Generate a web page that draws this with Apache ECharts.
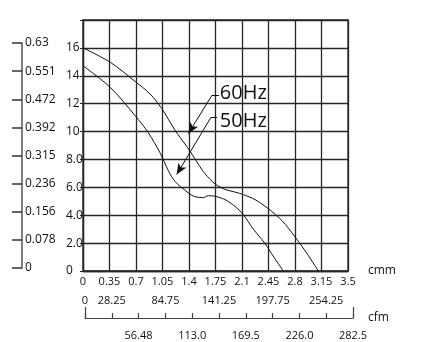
<!DOCTYPE html>
<html>
<head>
<meta charset="utf-8">
<script src="https://cdn.jsdelivr.net/npm/echarts@6/dist/echarts.min.js"></script>
<style>
  html, body { margin: 0; padding: 0; background: #fff; }
  #chart { width: 424px; height: 342px; }
</style>
</head>
<body>
<div id="chart"></div>
<script>
// Airflow (cmm) tick labels along the main horizontal axis
const cmmLabels = ['0', '0.35', '0.7', '1.05', '1.4', '1.75', '2.1', '2.45', '2.8', '3.15', '3.5'];
// Airflow (cfm) tick labels on the secondary scale
const cfmLabels = ['0', '28.25', '56.48', '84.75', '113.0', '141.25', '169.5', '197.75', '226.0', '254.25', '282.5'];
// Static pressure (mmH2O) tick labels
const pressLabels = ['0', '2.0', '4.0', '6.0', '8.0', '10', '12', '14', '16'];
// Static pressure (inch H2O) tick labels
const inchLabels = ['0', '0.078', '0.156', '0.236', '0.315', '0.392', '0.472', '0.551', '0.63'];

// 60Hz performance curve
const flow60  = [0, 0.36, 0.687, 0.885, 1.04, 1.215, 1.347, 1.413, 1.523, 1.611, 1.743, 1.876, 2.008, 2.117, 2.272, 2.44, 2.63, 2.8, 2.955, 3.108];
const press60 = [16.0, 14.97, 13.6, 12.7, 11.65, 10.1, 9.1, 8.6, 7.66, 6.98, 6.25, 5.85, 5.66, 5.48, 5.12, 4.5, 3.6, 2.45, 1.28, 0];

// 50Hz performance curve
const flow50  = [0, 0.36, 0.687, 0.862, 1.017, 1.127, 1.215, 1.391, 1.479, 1.589, 1.655, 1.743, 1.876, 2.008, 2.117, 2.25, 2.4, 2.52, 2.646];
const press50 = [14.72, 13.17, 11.15, 9.92, 8.48, 7.2, 6.42, 5.6, 5.33, 5.26, 5.4, 5.36, 5.12, 4.63, 4.04, 3.0, 2.0, 1.0, 0];

// Callout leaders: text anchor, elbow start, elbow end, arrow tip (cmm, mmH2O)
const callout60 = [[1.80, 12.76], [1.796, 12.61], [1.704, 12.61], [1.391, 9.85]];
const callout50 = [[1.80, 10.76], [1.770, 11.03], [1.691, 11.03], [1.238, 6.92]];

const zip = (xs, ys) => xs.map((x, i) => [x, ys[i]]);
const FONT = '"Open Sans", "Noto Sans", sans-serif';
const INK = '#111';
const GRIDC = '#262626';

function leader(c) {
  return [
    [{ coord: c[1], symbol: 'none' }, { coord: c[2], symbol: 'none' }],
    [{ coord: c[2], symbol: 'none' }, { coord: c[3], symbol: 'arrow' }]
  ];
}

const chart = echarts.init(document.getElementById('chart'), null, { renderer: 'canvas' });

chart.setOption({
  animation: false,
  backgroundColor: '#fff',
  textStyle: { fontFamily: FONT, color: INK },
  grid: [
    { left: 83, right: 76, top: 20, bottom: 71, show: true, borderColor: GRIDC, borderWidth: 1.3, containLabel: false },
    { left: 85, right: 71, top: 317, height: 1, containLabel: false },
    { left: 22, top: 43, width: 20, height: 225, containLabel: false }
  ],
  xAxis: [
    {
      gridIndex: 0, type: 'value', min: 0, max: 3.5, interval: 0.35,
      axisLine: { show: true, lineStyle: { color: GRIDC, width: 1.3 } },
      axisTick: { show: false },
      splitLine: { show: true, lineStyle: { color: GRIDC, width: 1.3 } },
      axisLabel: {
        margin: 5, fontSize: 11, color: INK, fontFamily: FONT,
        formatter: v => cmmLabels[Math.round(v / 0.35)] || ''
      },
      name: 'cmm', nameLocation: 'end', nameGap: 20,
      nameTextStyle: { fontSize: 12, color: INK, fontFamily: FONT, verticalAlign: 'middle' }
    },
    {
      gridIndex: 1, type: 'value', position: 'bottom', min: 0, max: 282.5, interval: 28.25,
      axisLine: { show: true, lineStyle: { color: '#444', width: 1.2 } },
      axisTick: { show: true, inside: true, length: 5, lineStyle: { color: '#444', width: 1.2 } },
      splitLine: { show: false },
      axisLabel: {
        margin: 12, fontSize: 11, color: INK, fontFamily: FONT,
        formatter: v => { const i = Math.round(v / 28.25); return (i > 0 && i % 2 === 0) ? cfmLabels[i] : ''; }
      },
      name: 'cfm', nameLocation: 'end', nameGap: 15,
      nameTextStyle: { fontSize: 12, color: INK, fontFamily: FONT, verticalAlign: 'middle', padding: [0, 0, 10, 0] }
    },
    {
      gridIndex: 1, type: 'value', position: 'top', min: 0, max: 282.5, interval: 28.25,
      axisLine: { show: false }, axisTick: { show: false }, splitLine: { show: false },
      axisLabel: {
        margin: 11, fontSize: 11, color: INK, fontFamily: FONT,
        formatter: v => { const i = Math.round(v / 28.25); return (i === 0 || i % 2 === 1) ? cfmLabels[i] : ''; }
      }
    },
    {
      gridIndex: 1, type: 'value', position: 'bottom', min: 0, max: 282.5, interval: 282.5,
      axisLine: { show: false }, splitLine: { show: false }, axisLabel: { show: false },
      axisTick: { show: true, inside: true, length: 11, lineStyle: { color: '#444', width: 1.2 } }
    },
    { gridIndex: 2, type: 'value', show: false, min: 0, max: 1 }
  ],
  yAxis: [
    {
      gridIndex: 0, type: 'value', min: 0, max: 18, interval: 2,
      axisLine: { show: true, lineStyle: { color: GRIDC, width: 1.3 } },
      axisTick: { show: true, length: 3, lineStyle: { color: GRIDC, width: 1 } },
      splitLine: { show: true, lineStyle: { color: GRIDC, width: 1.3 } },
      axisLabel: {
        margin: 17, align: 'left', verticalAlign: 'middle', padding: [0, 0, 8, 0],
        fontSize: 12, color: INK, fontFamily: FONT,
        formatter: v => pressLabels[Math.round(v / 2)] || ''
      }
    },
    { gridIndex: 1, type: 'value', show: false, min: 0, max: 1 },
    {
      gridIndex: 2, type: 'value', min: 0, max: 8, interval: 1,
      axisLine: { show: true, lineStyle: { color: '#555', width: 1.5 } },
      axisTick: { show: true, length: 10, lineStyle: { color: '#333', width: 1.5 } },
      splitLine: { show: false },
      axisLabel: {
        inside: true, margin: 3, fontSize: 12, color: INK, fontFamily: FONT,
        formatter: v => inchLabels[Math.round(v)] || ''
      }
    }
  ],
  series: [
    {
      name: '60Hz', type: 'line', xAxisIndex: 0, yAxisIndex: 0,
      data: zip(flow60, press60), smooth: 0.3, symbol: 'none',
      lineStyle: { color: INK, width: 1 },
      markLine: {
        silent: true, symbolSize: [7, 11],
        label: { show: false },
        lineStyle: { type: 'solid', color: INK, width: 1 },
        data: leader(callout60).concat(leader(callout50))
      },
      markPoint: {
        silent: true, symbol: 'circle', symbolSize: 1,
        itemStyle: { color: 'rgba(0,0,0,0)' },
        label: {
          show: true, position: 'right', distance: 0, fontSize: 20,
          color: INK, fontFamily: FONT, formatter: p => p.name
        },
        data: [
          { name: '60Hz', coord: callout60[0] },
          { name: '50Hz', coord: callout50[0] }
        ]
      }
    },
    {
      name: '50Hz', type: 'line', xAxisIndex: 0, yAxisIndex: 0,
      data: zip(flow50, press50), smooth: 0.3, symbol: 'none',
      lineStyle: { color: INK, width: 1 }
    }
  ]
});
</script>
</body>
</html>
